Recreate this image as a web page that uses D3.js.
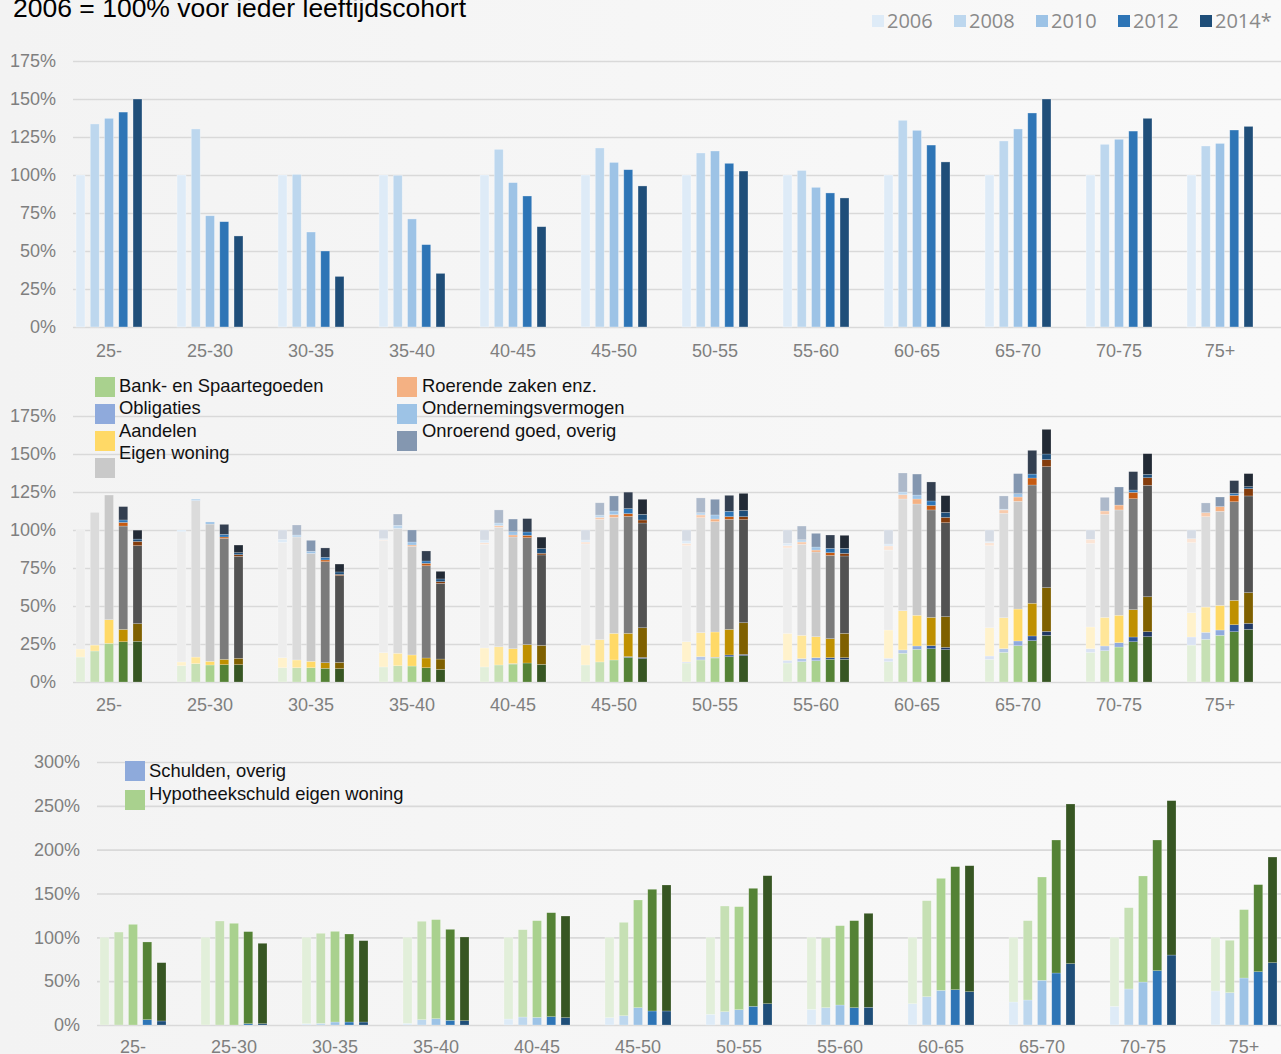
<!DOCTYPE html>
<html><head><meta charset="utf-8">
<script src="https://cdn.jsdelivr.net/npm/d3@7"></script>
<style>
html,body{margin:0;padding:0;background:#f6f6f6;overflow:hidden}
text{font-family:"Liberation Sans",Arial,sans-serif}
</style></head>
<body>
<svg id="chart" width="1281" height="1054"></svg>
<script>
// ---------- DATA ----------
const categories = ["25-","25-30","30-35","35-40","40-45","45-50","50-55","55-60","60-65","65-70","70-75","75+"];
const years = ["2006","2008","2010","2012","2014*"];

// Panel 1: net worth index per year (2006 = 100)
const netto2006 = [100,100,100,100,100,100,100,100,100,100,100,100];
const netto2008 = [133.6,130.3,100.4,99.8,116.9,117.8,114.5,103.0,136.0,122.4,120.2,119.1];
const netto2010 = [137.3,73.2,62.5,71.1,95.0,108.3,115.8,91.9,129.4,130.3,123.5,120.8];
const netto2012 = [141.4,69.3,50.0,54.2,86.2,103.5,107.7,88.2,119.7,140.8,128.9,129.6];
const netto2014 = [150.0,59.9,33.3,35.3,66.0,92.8,102.6,84.9,108.6,150.0,137.3,132.0];

// Panel 2: assets by component, rows = years (2006..2014), columns = categories
const bank = [
  [16.4,10.7,9.4,9.9,9.9,11.2,12.5,12.5,13.4,14.9,19.5,24.3],
  [20.4,12.1,9.4,10.7,11.2,13.2,14.5,13.4,18.9,19.5,20.6,28.1],
  [25.4,11.2,9.4,10.5,11.8,14.5,15.8,14.0,21.5,23.9,23.0,30.7],
  [26.5,11.4,9.0,9.4,12.5,16.2,16.7,14.9,21.9,27.2,26.5,33.1],
  [26.8,11.4,8.8,8.3,11.6,15.4,17.3,14.9,21.3,30.7,29.8,34.6]];
const obligaties = [
  [0,0,0,0,0,0,0.7,1.8,2.2,2.2,2.4,5.3],
  [0,0,0,0,0,0,2.2,2.0,2.2,2.4,3.1,4.6],
  [0,0,0,0,0.3,0,0.5,2.0,2.2,3.1,2.9,3.5],
  [0,0,0,0,0,0.5,1.1,1.1,2.0,3.1,3.1,4.6],
  [0,0,0,0,0,0.8,0.9,1.1,1.5,2.6,3.3,4.0]];
const aandelen = [
  [5.3,2.5,6.6,9.4,12.5,13.1,13.3,17.7,18.6,18.6,14.3,16.0],
  [3.9,4.3,5.1,8.2,12.0,14.7,15.8,15.3,25.8,20.4,18.8,16.6],
  [15.6,2.4,4.2,7.3,9.8,17.5,16.6,13.8,20.2,21.0,18.0,16.2],
  [8.1,3.5,3.7,6.4,12.1,15.3,16.8,12.5,18.6,21.5,18.0,16.0],
  [11.6,4.2,4.1,6.8,12.5,19.5,20.8,16.0,20.2,28.8,23.0,20.2]];
const eigenWoning = [
  [78.3,85.7,75.9,73.9,68.2,66.5,63.2,56.2,52.6,54.0,55.0,46.1],
  [87.3,102.9,80.9,82.2,78.6,79.1,75.6,59.9,73.5,68.7,67.8,59.5],
  [82.0,90.3,71.0,71.5,73.5,76.3,72.6,55.7,73.2,70.9,69.3,61.9],
  [68.0,79.6,66.5,60.7,70.4,77.0,72.4,54.8,70.7,77.8,73.0,64.9],
  [51.3,67.1,57.1,49.8,59.5,68.9,67.8,50.9,61.8,79.6,73.3,63.6]];
const roerendeZaken = [
  [0,0,0,0.5,1.1,1.3,1.5,1.5,2.7,2.0,2.7,2.6],
  [0,0,0,0,1.1,1.3,1.8,1.5,2.8,2.2,2.2,2.6],
  [0,0,0,0.8,1.3,1.8,1.7,1.3,3.3,2.8,3.2,3.1],
  [2.4,0.9,1.1,1.6,1.5,1.8,1.8,1.8,3.0,4.6,4.2,4.2],
  [2.8,1.1,0.8,1.1,1.1,2.0,2.0,1.7,3.5,4.6,5.0,4.8]];
const ondernemingsvermogen = [
  [0,1.1,2.0,0.6,1.7,1.3,1.6,1.5,1.3,0.6,0,0],
  [0,1.1,1.3,2.0,1.7,1.5,1.5,1.5,1.8,0.5,0,0],
  [0,1.4,1.4,2.0,2.2,2.4,2.7,2.0,2.6,2.2,0,0],
  [1.6,1.7,1.7,1.5,2.2,3.3,3.5,2.8,2.9,2.6,1.5,1.3],
  [1.5,1.3,1.6,1.8,3.1,3.7,4.1,3.3,3.3,3.7,2.2,1.3]];
const onroerendGoed = [
  [0,0,6.1,5.8,6.6,6.6,7.2,8.8,9.2,7.7,6.1,5.7],
  [0,0,6.6,7.4,8.6,8.1,9.7,9.0,12.5,8.7,9.0,6.4],
  [0,0,7.2,7.9,8.3,9.9,10.3,9.0,13.8,13.2,11.9,6.3],
  [8.8,6.6,6.2,6.6,8.8,10.8,10.5,8.8,12.5,15.6,12.1,8.4],
  [5.9,5.0,5.2,5.0,7.5,9.9,11.2,8.6,11.0,16.2,13.6,8.6]];

// Panel 3: debts by component
const schuldenOverig = [
  [0,0,1.5,1.9,6.8,8.4,12.2,17.9,24.3,26.2,21.3,38.8],
  [0,0,1.9,6.1,9.1,10.6,15.2,19.8,32.3,28.5,41.1,36.9],
  [0,0,3.4,7.2,8.7,19.8,17.5,22.8,39.5,51.0,49.0,53.6],
  [6.1,1.5,3.4,5.3,9.5,16.0,21.3,19.8,40.3,59.3,62.0,60.8],
  [4.6,1.5,3.4,4.9,8.4,16.0,24.3,20.2,38.0,70.0,79.8,71.1]];
const hypotheekschuld = [
  [100,100,98.5,98.1,93.2,91.6,87.8,82.1,75.7,73.8,78.7,61.2],
  [106.0,118.6,102.7,112.2,99.6,106.5,120.5,79.8,109.5,90.5,92.7,59.7],
  [114.8,116.0,103.4,113.0,110.3,122.8,117.5,90.5,127.8,117.8,121.0,78.0],
  [88.6,105.0,100.4,103.8,118.6,138.8,134.6,99.2,140.3,151.7,149.0,99.3],
  [66.5,91.7,92.8,95.5,115.9,143.7,146.0,107.2,143.7,182.1,176.1,120.5]];

const assetLabels = ["Bank- en Spaartegoeden","Obligaties","Aandelen","Eigen woning","Roerende zaken enz.","Ondernemingsvermogen","Onroerend goed, overig"];
const debtLabels = ["Schulden, overig","Hypotheekschuld eigen woning"];
const titleText = "2006 = 100% voor ieder leeftijdscohort";

// ---------- STYLE ----------
const blues = ["#deebf7","#bdd7ee","#9dc3e6","#2e75b6","#1f4e79"];
const assetShades = [
  ["#e2efda","#c6e0b4","#a9d18e","#548235","#375623"],
  ["#dae3f3","#b4c7e7","#8faadc","#2f5597","#203864"],
  ["#fff2cc","#ffe699","#ffd966","#bf9000","#7f6000"],
  ["#ededed","#dbdbdb","#c9c9c9","#7b7b7b","#525252"],
  ["#fbe5d6","#f8cbad","#f4b183","#c55a11","#843c0c"],
  ["#deebf7","#bdd7ee","#9dc3e6","#2e75b6","#1f4e79"],
  ["#d6dce5","#adb9ca","#8497b0","#333f50","#222a35"]];
const debtShades = [blues, ["#e2efda","#c6e0b4","#a9d18e","#548235","#375623"]];
const W = 1281, H = 1054, STEP = 101, GROUPW = 66;

const svg = d3.select("#chart");
const defs = svg.append("defs");
const grad = defs.append("linearGradient").attr("id","bg").attr("x1","0").attr("x2","1").attr("y1","0").attr("y2","0");
grad.append("stop").attr("offset","0").attr("stop-color","#f3f3f3");
grad.append("stop").attr("offset","1").attr("stop-color","#f9f9f9");
svg.append("rect").attr("width",W).attr("height",H).attr("fill","url(#bg)");

function panel(cfg){
  const y = d3.scaleLinear().domain([0,cfg.max]).range([cfg.y0,cfg.y1]);
  const ticks = d3.range(0,cfg.max+0.001,cfg.step);
  const g = svg.append("g");
  g.append("g").attr("transform",`translate(${cfg.gridX},0)`)
   .call(d3.axisLeft(y).tickValues(ticks).tickSize(-(W-cfg.gridX)).tickFormat(""))
   .call(a=>a.select(".domain").remove())
   .call(a=>a.selectAll("line").attr("stroke","#d9d9d9").attr("stroke-width",1.6));
  g.append("g").attr("transform",`translate(${cfg.labelRight},0)`)
   .call(d3.axisLeft(y).tickValues(ticks).tickSize(0).tickPadding(0).tickFormat(d=>d+"%"))
   .call(a=>a.select(".domain").remove())
   .call(a=>a.selectAll("text").attr("fill","#7f7f7f").style("font-size","18px"));
  const x = d3.scaleBand().domain(categories).range([cfg.c0-STEP/2, cfg.c0-STEP/2+STEP*categories.length]).padding(0);
  const xi = d3.scaleBand().domain(years).range([0,GROUPW]).paddingInner(0.37);
  g.append("g").attr("transform",`translate(0,${cfg.y0})`)
   .call(d3.axisBottom(x).tickSize(0).tickPadding(cfg.xPad))
   .call(a=>a.select(".domain").remove())
   .call(a=>a.selectAll("text").attr("fill","#7f7f7f").style("font-size","18px"));
  return {g,y,x,xi,bx:(c,yr)=>x(c)+STEP/2-GROUPW/2+xi(yr)};
}

// ---------- Panel 1 ----------
const p1 = panel({max:175,step:25,y0:327,y1:61,gridX:73,labelRight:56,c0:109,xPad:17});
const netto = [netto2006,netto2008,netto2010,netto2012,netto2014];
years.forEach((yr,k)=>{
  p1.g.append("g").selectAll("rect").data(categories).join("rect")
    .attr("x",c=>p1.bx(c,yr)).attr("width",p1.xi.bandwidth())
    .attr("y",(c,i)=>p1.y(netto[k][i])).attr("height",(c,i)=>p1.y(0)-p1.y(netto[k][i]))
    .attr("fill",blues[k]).attr("stroke","rgba(255,255,255,0.45)").attr("stroke-width",0.7);
});

// ---------- Panel 2 ----------
const p2 = panel({max:175,step:25,y0:682,y1:416,gridX:73,labelRight:56,c0:109,xPad:16});
const assetComps = [bank,obligaties,aandelen,eigenWoning,roerendeZaken,ondernemingsvermogen,onroerendGoed];
years.forEach((yr,k)=>{
  const rows = categories.map((c,i)=>{const r={cat:c}; assetComps.forEach((a,j)=>r["k"+j]=a[k][i]); return r;});
  const series = d3.stack().keys(assetComps.map((a,j)=>"k"+j))(rows);
  series.forEach((s,j)=>{
    p2.g.append("g").selectAll("rect").data(s.filter(d=>d[1]-d[0]>0)).join("rect")
      .attr("x",d=>p2.bx(d.data.cat,yr)).attr("width",p2.xi.bandwidth())
      .attr("y",d=>p2.y(d[1])).attr("height",d=>p2.y(d[0])-p2.y(d[1]))
      .attr("fill",assetShades[j][k]).attr("stroke","rgba(255,255,255,0.35)").attr("stroke-width",0.6);
  });
});
const lg2 = svg.append("g").style("font-size","18.4px");
const leftIdx=[0,1,2,3], rightIdx=[4,5,6];
const swY=[377,404,431,458], txY=[392,414,437,459];
leftIdx.forEach((j,r)=>{
  lg2.append("rect").attr("x",95).attr("y",swY[r]).attr("width",20).attr("height",20).attr("fill",assetShades[j][2]);
  lg2.append("text").attr("x",119).attr("y",txY[r]).attr("fill","#111").text(assetLabels[j]);
});
rightIdx.forEach((j,r)=>{
  lg2.append("rect").attr("x",397).attr("y",swY[r]).attr("width",20).attr("height",20).attr("fill",assetShades[j][2]);
  lg2.append("text").attr("x",422).attr("y",txY[r]).attr("fill","#111").text(assetLabels[j]);
});

// ---------- Panel 3 ----------
const p3 = panel({max:300,step:50,y0:1025,y1:762,gridX:97,labelRight:80,c0:133,xPad:15});
const debtComps = [schuldenOverig,hypotheekschuld];
years.forEach((yr,k)=>{
  const rows = categories.map((c,i)=>{const r={cat:c}; debtComps.forEach((a,j)=>r["k"+j]=a[k][i]); return r;});
  const series = d3.stack().keys(debtComps.map((a,j)=>"k"+j))(rows);
  series.forEach((s,j)=>{
    p3.g.append("g").selectAll("rect").data(s.filter(d=>d[1]-d[0]>0)).join("rect")
      .attr("x",d=>p3.bx(d.data.cat,yr)).attr("width",p3.xi.bandwidth())
      .attr("y",d=>p3.y(d[1])).attr("height",d=>p3.y(d[0])-p3.y(d[1]))
      .attr("fill",debtShades[j][k]).attr("stroke","rgba(255,255,255,0.35)").attr("stroke-width",0.6);
  });
});
const lg3 = svg.append("g").style("font-size","18.4px");
const debtSw = ["#8eaadb","#a9d18e"];
[[761,777],[790,800]].forEach((p,r)=>{
  lg3.append("rect").attr("x",125).attr("y",p[0]).attr("width",20).attr("height",20).attr("fill",debtSw[r]);
  lg3.append("text").attr("x",149).attr("y",p[1]).attr("fill","#111").text(debtLabels[r]);
});

// ---------- Title & year legend ----------
svg.append("text").attr("x",13).attr("y",17).attr("fill","#000").style("font-size","26.5px").text(titleText);
const ylg = svg.append("g").style("font-size","20px");
const legX = [872,954,1036,1118,1200];
years.forEach((yr,k)=>{
  ylg.append("rect").attr("x",legX[k]).attr("y",15).attr("width",12).attr("height",12).attr("fill",blues[k]);
  ylg.append("text").attr("x",legX[k]+15).attr("y",28).attr("fill","#8a8a8a").style("font-family","'Open Sans',sans-serif").text(yr);
});
</script>
</body></html>
